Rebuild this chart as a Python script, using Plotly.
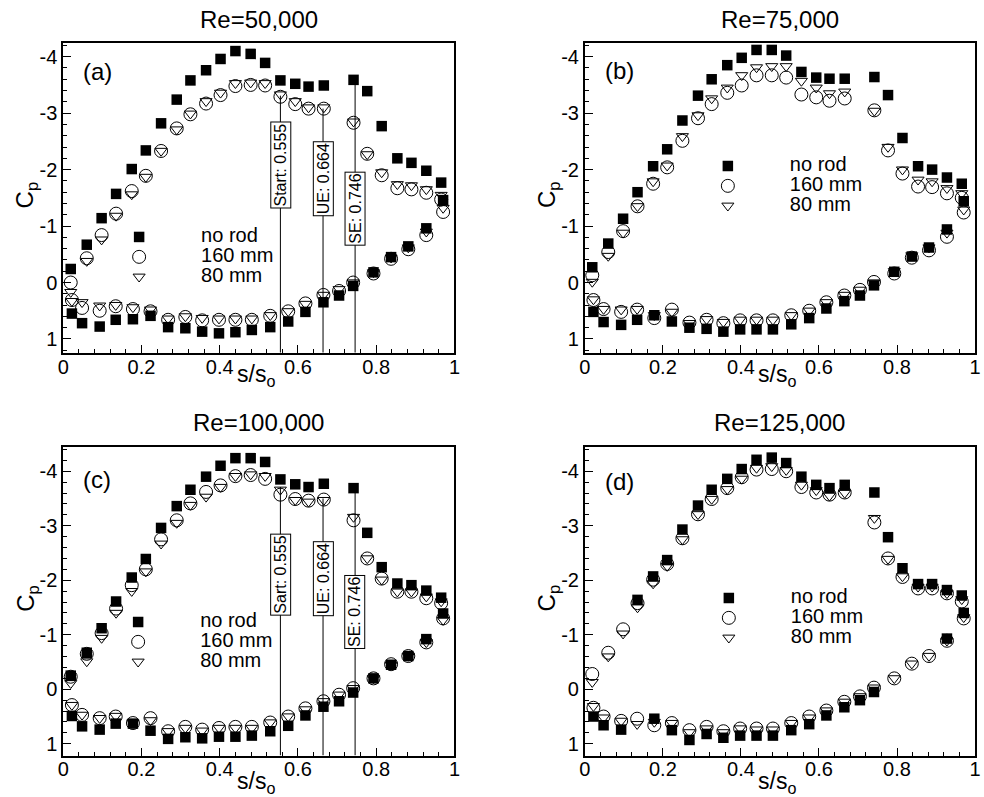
import plotly.graph_objects as go

FONT = "Liberation Sans, Arial, Helvetica, sans-serif"
W, H = 984, 797

# Tap locations along the blade surface (normalised arc length)
s_suction = [0.019, 0.06, 0.098, 0.135, 0.175, 0.211, 0.25, 0.29, 0.325, 0.365, 0.402, 0.44, 0.479,
             0.516, 0.555, 0.593, 0.627, 0.666, 0.742, 0.777, 0.814, 0.854, 0.89, 0.928, 0.966]
s_pressure = [0.022, 0.048, 0.093, 0.134, 0.178, 0.223, 0.268, 0.312, 0.355, 0.398, 0.44, 0.482,
              0.529, 0.575, 0.619, 0.665, 0.705, 0.741, 0.793, 0.838, 0.882, 0.928, 0.971]

# Re = 50,000
a_norod_ss = [-0.24, -0.67, -1.14, -1.57, -2.01, -2.34, -2.82, -3.24, -3.58, -3.76, -3.96, -4.10, -4.05,
              -3.89, -3.58, -3.52, -3.47, -3.49, -3.59, -3.39, -2.77, -2.20, -2.12, -1.98, -1.77]
a_norod_ps = [0.55, 0.72, 0.78, 0.66, 0.65, 0.59, 0.79, 0.81, 0.87, 0.90, 0.88, 0.84, 0.79, 0.69, 0.52,
              0.35, 0.23, 0.06, -0.18, -0.45, -0.64, -0.96, -1.46]
a_160_ss = [0.0, -0.43, -0.84, -1.22, -1.62, -1.89, -2.33, -2.73, -2.98, -3.17, -3.32, -3.48, -3.50,
            -3.49, -3.29, -3.16, -3.08, -3.08, -2.83, -2.28, -1.90, -1.67, -1.65, -1.59, -1.47]
a_160_ps = [0.31, 0.45, 0.50, 0.42, 0.47, 0.51, 0.66, 0.61, 0.67, 0.66, 0.66, 0.66, 0.59, 0.51, 0.37,
            0.22, 0.15, 0.0, -0.16, -0.42, -0.59, -0.84, -1.25]
a_80_ss = [0.17, -0.38, -0.76, -1.18, -1.56, -1.87, -2.33, -2.71, -2.99, -3.21, -3.36, -3.53, -3.54,
           -3.53, -3.33, -3.21, -3.10, -3.10, -2.85, -2.27, -1.95, -1.74, -1.72, -1.65, -1.55]
a_80_ps = [0.33, 0.35, 0.41, 0.40, 0.44, 0.48, 0.64, 0.60, 0.63, 0.64, 0.64, 0.64, 0.58, 0.51, 0.38,
           0.22, 0.12, 0.0, -0.18, -0.44, -0.62, -0.90, -1.32]

# Re = 75,000
b_norod_ss = [-0.27, -0.69, -1.13, -1.60, -2.06, -2.36, -2.87, -3.31, -3.60, -3.85, -3.98, -4.12, -4.12,
              -4.02, -3.73, -3.63, -3.61, -3.61, -3.64, -3.32, -2.56, -2.06, -2.00, -1.86, -1.75]
b_norod_ps = [0.52, 0.70, 0.75, 0.66, 0.58, 0.69, 0.80, 0.82, 0.87, 0.83, 0.83, 0.83, 0.74, 0.63, 0.46,
              0.33, 0.23, 0.05, -0.19, -0.46, -0.62, -0.94, -1.44]
b_160_ss = [-0.13, -0.54, -0.91, -1.35, -1.75, -2.04, -2.51, -2.91, -3.16, -3.36, -3.49, -3.67, -3.67,
            -3.63, -3.33, -3.28, -3.22, -3.26, -3.05, -2.34, -1.93, -1.70, -1.69, -1.58, -1.50]
b_160_ps = [0.31, 0.47, 0.52, 0.48, 0.63, 0.48, 0.71, 0.66, 0.72, 0.67, 0.67, 0.67, 0.58, 0.50, 0.35,
            0.23, 0.13, -0.01, -0.16, -0.44, -0.57, -0.81, -1.24]
b_80_ss = [-0.01, -0.47, -0.88, -1.35, -1.79, -2.07, -2.59, -2.96, -3.26, -3.45, -3.67, -3.81, -3.83,
           -3.83, -3.57, -3.45, -3.35, -3.38, -3.04, -2.40, -2.00, -1.82, -1.79, -1.67, -1.58]
b_80_ps = [0.30, 0.47, 0.48, 0.47, 0.58, 0.52, 0.72, 0.65, 0.70, 0.66, 0.66, 0.66, 0.58, 0.50, 0.35,
           0.22, 0.13, 0.0, -0.20, -0.48, -0.62, -0.88, -1.29]

# Re = 100,000
c_norod_ss = [-0.25, -0.67, -1.12, -1.61, -2.05, -2.39, -2.96, -3.36, -3.66, -3.90, -4.10, -4.24, -4.24,
              -4.17, -3.85, -3.76, -3.71, -3.77, -3.69, -2.87, -2.24, -1.94, -1.91, -1.81, -1.68]
c_norod_ps = [0.49, 0.68, 0.74, 0.63, 0.63, 0.76, 0.91, 0.88, 0.90, 0.87, 0.87, 0.85, 0.77, 0.67, 0.48,
              0.32, 0.22, 0.06, -0.20, -0.45, -0.61, -0.92, -1.39]
c_160_ss = [-0.23, -0.65, -1.03, -1.48, -1.91, -2.20, -2.75, -3.10, -3.41, -3.62, -3.74, -3.91, -3.93,
            -3.86, -3.57, -3.49, -3.46, -3.48, -3.10, -2.40, -2.03, -1.79, -1.79, -1.67, -1.58]
c_160_ps = [0.29, 0.47, 0.53, 0.50, 0.62, 0.53, 0.77, 0.69, 0.74, 0.71, 0.69, 0.69, 0.61, 0.50, 0.35,
            0.22, 0.10, -0.02, -0.20, -0.46, -0.61, -0.86, -1.30]
c_80_ss = [-0.11, -0.51, -0.94, -1.40, -1.80, -2.16, -2.67, -3.05, -3.38, -3.53, -3.71, -3.91, -3.94,
           -3.91, -3.66, -3.47, -3.44, -3.47, -3.16, -2.40, -2.01, -1.79, -1.79, -1.70, -1.61]
c_80_ps = [0.29, 0.47, 0.53, 0.49, 0.61, 0.57, 0.77, 0.71, 0.76, 0.71, 0.71, 0.71, 0.61, 0.50, 0.37,
           0.22, 0.10, -0.02, -0.20, -0.45, -0.61, -0.86, -1.27]

# Re = 125,000 (no-rod taps without a reading are left empty)
d_norod_ss = [None, None, None, -1.64, -2.07, -2.37, -2.93, -3.37, -3.66, -3.86, -4.04, -4.21, -4.25,
              -4.15, -3.90, -3.75, -3.69, -3.75, -3.61, -2.79, -2.22, -1.93, -1.93, -1.82, -1.72]
d_norod_ps = [0.50, 0.66, 0.74, None, 0.54, 0.75, 0.93, 0.82, 0.89, 0.85, 0.85, 0.85, 0.75, 0.64, 0.48,
              0.33, 0.20, 0.05, None, None, None, -0.93, -1.40]
d_160_ss = [-0.28, -0.67, -1.10, -1.58, -2.01, -2.30, -2.77, -3.21, -3.49, -3.69, -3.89, -4.03, -4.04,
            -4.00, -3.71, -3.61, -3.57, -3.61, -3.06, -2.40, -2.06, -1.85, -1.85, -1.76, -1.61]
d_160_ps = [0.34, 0.50, 0.58, 0.54, 0.66, 0.62, 0.75, 0.69, 0.77, 0.72, 0.72, 0.72, 0.62, 0.50, 0.39,
            0.23, 0.13, -0.03, -0.20, -0.47, -0.61, -0.89, -1.30]
d_80_ss = [-0.13, -0.60, -1.02, -1.50, -1.94, -2.26, -2.75, -3.21, -3.49, -3.67, -3.86, -4.06, -4.09,
           -4.02, -3.75, -3.65, -3.55, -3.60, -3.14, -2.39, -2.07, -1.88, -1.88, -1.76, -1.65]
d_80_ps = [0.31, 0.52, 0.58, 0.64, 0.60, 0.62, 0.79, 0.72, 0.79, 0.72, 0.74, 0.74, 0.62, 0.52, 0.39,
           0.23, 0.13, -0.03, -0.20, -0.47, -0.61, -0.89, -1.32]

titles = ["Re=50,000", "Re=75,000", "Re=100,000", "Re=125,000"]
panel_tags = ["(a)", "(b)", "(c)", "(d)"]
series_names = ["no rod", "160 mm", "80 mm"]

# Separation / transition markers drawn on panels (a) and (c)
sep_s = [0.555, 0.664, 0.746]
sep_labels_a = ["Start: 0.555", "UE: 0.664", "SE: 0.746"]
sep_labels_c = ["Sart: 0.555", "UE: 0.664", "SE: 0.746"]
sep_top_a = [-3.31, -3.08, -3.61]
sep_top_c = [-3.71, -3.50, -3.68]
sep_box_a = [-2.08, -1.83, -1.31]
sep_box_c = [-2.11, -2.02, -1.42]

y_tickvals = [-4, -3, -2, -1, 0, 1]
y_ticktext = ["-4", "-3", "-2", "-1", "0", "1"]

# ---- layout geometry (pixels) ----
COLS = [(58, 454), (586, 981)]
ROWS = [(42.7, 352.7), (446.7, 755.5)]
YRANGES = [(1.243, -4.248), (1.215, -4.45)]
LEGEND_POS = [(72, 222), (668, 151), (71, 607), (669, 583)]
TAG_Y = [71.7, 70, 480, 481.7]
TITLE_Y = [20, 422]
XLABEL_Y = [375, 782]


def px(x):
    return x / W


def py(y):
    return 1 - y / H


panel_data = [
    (a_norod_ss, a_norod_ps, a_160_ss, a_160_ps, a_80_ss, a_80_ps),
    (b_norod_ss, b_norod_ps, b_160_ss, b_160_ps, b_80_ss, b_80_ps),
    (c_norod_ss, c_norod_ps, c_160_ss, c_160_ps, c_80_ss, c_80_ps),
    (d_norod_ss, d_norod_ps, d_160_ss, d_160_ps, d_80_ss, d_80_ps),
]

fig = go.Figure()
layout = dict(
    width=W, height=H,
    margin=dict(l=0, r=0, t=0, b=0),
    paper_bgcolor="white", plot_bgcolor="white",
    font=dict(family=FONT, color="black"),
    showlegend=True,
    annotations=[], shapes=[],
)

for i in range(4):
    r, c = divmod(i, 2)
    sfx = "" if i == 0 else str(i + 1)
    xa, ya = "x" + sfx, "y" + sfx
    leg = "legend" + sfx
    norod_ss, norod_ps, r160_ss, r160_ps, r80_ss, r80_ps = panel_data[i]
    xs = s_suction + s_pressure

    # open symbols first, filled squares on top
    fig.add_trace(go.Scatter(
        x=xs, y=r160_ss + r160_ps, mode="markers", xaxis=xa, yaxis=ya, legend=leg,
        name='<span style="font-size:20px">%s</span>' % series_names[1], legendrank=2,
        marker=dict(symbol="circle-open", size=13, color="black", line=dict(width=1, color="black")),
        cliponaxis=False))
    fig.add_trace(go.Scatter(
        x=xs, y=r80_ss + r80_ps, mode="markers", xaxis=xa, yaxis=ya, legend=leg,
        name='<span style="font-size:20px">%s</span>' % series_names[2], legendrank=3,
        marker=dict(symbol="triangle-down-open", size=10.5, color="black", line=dict(width=1, color="black")),
        cliponaxis=False))
    fig.add_trace(go.Scatter(
        x=xs, y=norod_ss + norod_ps, mode="markers", xaxis=xa, yaxis=ya, legend=leg,
        name='<span style="font-size:20px">%s</span>' % series_names[0], legendrank=1,
        marker=dict(symbol="square", size=10.5, color="black", line=dict(width=0)),
        cliponaxis=False))

    axkey_x = "xaxis" + sfx
    axkey_y = "yaxis" + sfx
    layout[axkey_x] = dict(
        domain=[px(COLS[c][0]), px(COLS[c][1])], anchor=ya, range=[0, 1],
        showline=True, mirror=True, linecolor="black", linewidth=1.8,
        showgrid=False, zeroline=False,
        ticks="inside", ticklen=8, tickwidth=1, tickcolor="black",
        tick0=0, dtick=0.2, ticklabelstandoff=-5,
        tickfont=dict(size=20, color="black", family=FONT),
        minor=dict(ticks="inside", ticklen=4, tickwidth=1, tickcolor="black",
                   tickmode="linear", tick0=0, dtick=0.04, showgrid=False),
    )
    layout[axkey_y] = dict(
        domain=[py(ROWS[r][1]), py(ROWS[r][0])], anchor=xa, range=list(YRANGES[r]),
        showline=True, mirror=True, linecolor="black", linewidth=1.8,
        showgrid=False, zeroline=False,
        ticks="inside", ticklen=8, tickwidth=1, tickcolor="black",
        tickmode="array", tickvals=y_tickvals, ticktext=y_ticktext,
        tickfont=dict(size=20, color="black", family=FONT),
        minor=dict(ticks="inside", ticklen=4, tickwidth=1, tickcolor="black",
                   tickmode="linear", tick0=0, dtick=0.2, showgrid=False),
    )

    lx, ly = LEGEND_POS[i]
    layout[leg] = dict(
        x=px(lx), y=py(ly), xanchor="left", yanchor="top", xref="paper", yref="paper",
        bgcolor="rgba(0,0,0,0)", borderwidth=0, itemwidth=114, tracegroupgap=0,
        font=dict(size=13, family=FONT, color="black"), traceorder="normal",
    )

    cx = (COLS[c][0] + COLS[c][1]) / 2
    layout["annotations"].append(dict(
        text=titles[i], x=px(cx), y=py(TITLE_Y[r]), xref="paper", yref="paper",
        xanchor="center", yanchor="middle", showarrow=False, font=dict(size=24)))
    layout["annotations"].append(dict(
        text=panel_tags[i], x=px(COLS[c][0] + 18), y=py(TAG_Y[i]), xref="paper", yref="paper",
        xanchor="left", yanchor="middle", showarrow=False, font=dict(size=24)))
    layout["annotations"].append(dict(
        text="s/s<sub>o</sub>", x=px(cx - 3), y=py(XLABEL_Y[r]), xref="paper", yref="paper",
        xanchor="center", yanchor="middle", showarrow=False, font=dict(size=23)))
    layout["annotations"].append(dict(
        text="C<sub>p</sub>", x=px(COLS[c][0] - 37), y=py((ROWS[r][0] + ROWS[r][1]) / 2 - 3),
        xref="paper", yref="paper", xanchor="center", yanchor="middle",
        textangle=-90, showarrow=False, font=dict(size=24)))

# Vertical marker lines with boxed labels on panels (a) and (c)
for i, labels, tops, boxes in [(0, sep_labels_a, sep_top_a, sep_box_a),
                                (2, sep_labels_c, sep_top_c, sep_box_c)]:
    sfx = "" if i == 0 else str(i + 1)
    r = i // 2
    for s, lab, top, by in zip(sep_s, labels, tops, boxes):
        layout["shapes"].append(dict(
            type="line", xref="x" + sfx, yref="y" + sfx, x0=s, x1=s, y0=top, y1=YRANGES[r][0],
            line=dict(color="black", width=1)))
        layout["annotations"].append(dict(
            text=lab, x=s, y=by, xref="x" + sfx, yref="y" + sfx, textangle=-90,
            showarrow=False, font=dict(size=16), bgcolor="white",
            bordercolor="black", borderwidth=1, borderpad=1))

fig.update_layout(**layout)
fig.write_html("out.html")
